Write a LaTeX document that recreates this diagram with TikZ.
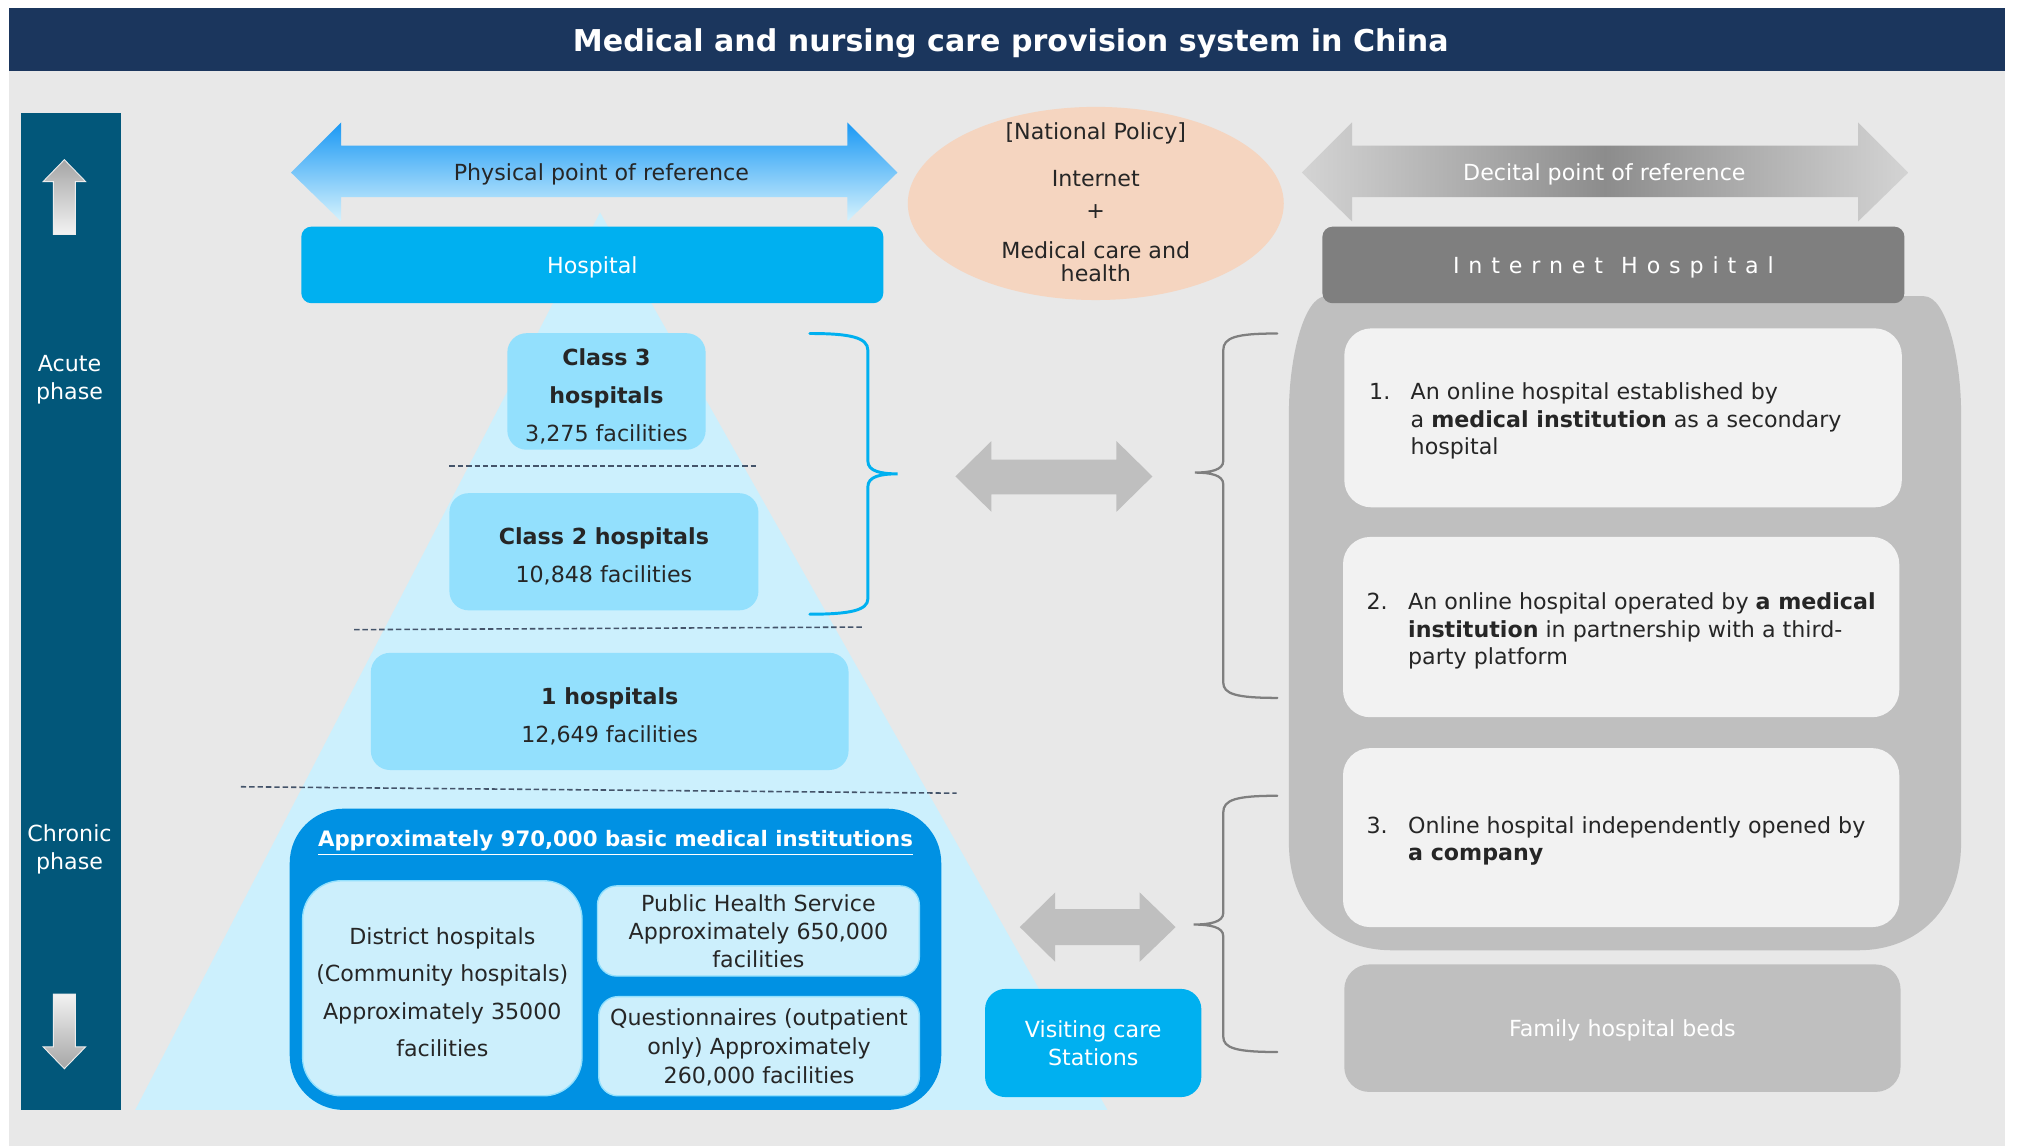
\documentclass[tikz,border=0pt]{standalone}
\usepackage{fontspec}
\setmainfont{DejaVu Sans}
\usetikzlibrary{shapes.geometric}

\definecolor{titlenavy}{HTML}{1B365D}
\definecolor{phaseteal}{HTML}{02577A}
\definecolor{bggray}{HTML}{E8E8E8}
\definecolor{hospblue}{HTML}{00B0F0}
\definecolor{classblue}{HTML}{93E0FD}
\definecolor{pyramidblue}{HTML}{CCF0FD}
\definecolor{basicblue}{HTML}{0091E3}
\definecolor{innerblue}{HTML}{CCEFFC}
\definecolor{policypeach}{HTML}{F5D5C0}
\definecolor{netgray}{HTML}{7F7F7F}
\definecolor{boxgray}{HTML}{BFBFBF}
\definecolor{itemwhite}{HTML}{F2F2F2}
\definecolor{dashnavy}{HTML}{44546A}
\definecolor{bracegray}{HTML}{7F7F7F}

\def\pxu{0.02cm}
\def\topstrut{\rule{0pt}{10.8pt}}

\tikzset{
  txt/.style={font=\fontsize{9.8}{12.2}\selectfont, text=black!85, inner sep=0pt, align=center, text depth=0pt},
  wtxt/.style={txt, text=white},
  itemtxt/.style={font=\fontsize{9.8}{12.2}\selectfont, text=black!85, inner sep=0pt, anchor=west},
  box/.style={txt, rounded corners=4.5pt},
  classbox/.style={box, fill=classblue, rounded corners=8.5pt, font=\fontsize{9.8}{16.8}\selectfont},
  innerbox/.style={box, fill=innerblue, draw=classblue, line width=0.6pt},
  itembox/.style={box, fill=itemwhite, rounded corners=12pt},
  tierline/.style={dashnavy, dash pattern=on 2.4pt off 1.3pt, line width=0.7pt},
  brace/.style={line width=1pt, line cap=round},
}

\begin{document}
\begin{tikzpicture}[x=0.02cm,y=-0.02cm]
\def\physarrow{(226,134) -- (265,95) -- (265,113) -- (658,113) -- (658,95) -- (697,134) -- (658,172) -- (658,153) -- (265,153) -- (265,172) -- cycle}
\def\digarrow{(1011,134) -- (1050,95) -- (1050,113) -- (1443,113) -- (1443,95) -- (1482,134) -- (1443,172) -- (1443,153) -- (1050,153) -- (1050,172) -- cycle}
\def\midarrow{(742,370) -- (770,342.5) -- (770,357) -- (867,357) -- (867,342.5) -- (895,370) -- (867,397.5) -- (867,384) -- (770,384) -- (770,397.5) -- cycle}
\def\lowarrow{(792,720) -- (819.5,693) -- (819.5,706) -- (885,706) -- (885,693) -- (913,720) -- (885,747) -- (885,734) -- (819.5,734) -- (819.5,747) -- cycle}
\def\containerpath{(1030,230) -- (1494,230) .. controls (1512,230) and (1523,280) .. (1523,320) -- (1523,655) .. controls (1523,705) and (1490,738) .. (1443,738) -- (1081,738) .. controls (1034,738) and (1001,705) .. (1001,655) -- (1001,320) .. controls (1001,280) and (1012,230) .. (1030,230) -- cycle}

\useasboundingbox (0,0) rectangle (1568,890);
\fill[white] (0,0) rectangle (1568,890);
\fill[bggray] (7,6) rectangle (1557,890);
\fill[titlenavy] (7,6) rectangle (1557,55);
\node[font=\fontsize{13.3}{16}\selectfont\bfseries, text=white, inner sep=0pt, text depth=0pt] (title) at (785,31) {Medical and nursing care provision system in China};

% phases
\fill[phaseteal] (16,88) rectangle (94,862);
\shade[top color=black!35, bottom color=black!5, draw=white!85!gray, line width=0.4pt]
  (50,124) -- (66.5,141) -- (58.5,141) -- (58.5,182) -- (41.5,182) -- (41.5,141) -- (33.5,141) -- cycle;
\shade[top color=black!5, bottom color=black!35, draw=white!85!gray, line width=0.4pt]
  (41.5,772) -- (58.5,772) -- (58.5,813) -- (66.5,813) -- (50,830) -- (33.5,813) -- (41.5,813) -- cycle;
\node[wtxt] (acute) at (54,293) {Acute\\phase};
\node[wtxt] (chronic) at (54,658) {Chronic\\phase};

% pyramid
\fill[pyramidblue] (105,862) -- (466,165) -- (860,862) -- cycle;

\shade[top color=hospblue!80!blue!90, bottom color=pyramidblue!80!white] \physarrow;
\shade[left color=black!17, right color=black!17, middle color=black!45] \digarrow;
\node[txt] (physlbl) at (467,134) {Physical point of reference};
\node[wtxt] (diglbl) at (1246,134) {Decital point of reference};

\node[ellipse, fill=policypeach, minimum width=292*\pxu, minimum height=150*\pxu, inner sep=0pt] (policy) at (851,158) {};
\node[txt, font=\fontsize{9.8}{10.2}\selectfont] (policytxt) at (851,157) {[National Policy]\\[10.3pt]Internet\\[4pt]+\\[7.4pt]Medical care and\\health};

\node[box, fill=hospblue, text=white, minimum width=452*\pxu, minimum height=59.5*\pxu] (hosp) at (460,205.75) {Hospital};

\node[classbox, minimum width=154*\pxu, minimum height=90.5*\pxu] (class3) at (471,304) {\topstrut\textbf{Class 3}\\\textbf{hospitals}\\3,275 facilities};
\node[classbox, minimum width=240*\pxu, minimum height=91*\pxu] (class2) at (469,428.5) {\topstrut\textbf{Class 2 hospitals}\\10,848 facilities};
\node[classbox, minimum width=371*\pxu, minimum height=91*\pxu] (class1) at (473.5,552.5) {\topstrut\textbf{1 hospitals}\\12,649 facilities};

\draw[tierline] (349,362) -- (588,362);
\draw[tierline] (275,489) -- (670,487);
\draw[tierline] (187,611) -- (743,616);

\node[box, fill=basicblue, rounded corners=24pt, minimum width=506*\pxu, minimum height=234*\pxu] (basic) at (478,745) {};
\node[wtxt, font=\fontsize{9.4}{12}\selectfont\bfseries] (basictitle) at (478,651) {\underline{Approximately 970,000 basic medical institutions}};
\node[innerbox, rounded corners=17pt, font=\fontsize{9.8}{16.5}\selectfont, minimum width=217*\pxu, minimum height=167*\pxu] (district) at (343.5,767.5) {\topstrut District hospitals\\(Community hospitals)\\Approximately 35000\\facilities};
\node[innerbox, rounded corners=8.5pt, font=\fontsize{9.8}{12.5}\selectfont, minimum width=250*\pxu, minimum height=70*\pxu] (publichealth) at (589,723) {Public Health Service\\Approximately 650,000\\facilities};
\node[innerbox, rounded corners=8.5pt, font=\fontsize{9.8}{12.8}\selectfont, minimum width=249*\pxu, minimum height=77*\pxu] (questionnaire) at (589.5,812.5) {Questionnaires (outpatient\\only) Approximately\\260,000 facilities};

\node[box, fill=hospblue, text=white, rounded corners=9pt, minimum width=168*\pxu, minimum height=84*\pxu] (visiting) at (849,810) {Visiting care\\Stations};

% braces and links
\draw[brace, hospblue, line width=1.3pt] (629,259) .. controls (660,259) and (674,262) .. (674,272) -- (674,358) .. controls (674,366) and (684,368) .. (697,368) .. controls (684,368) and (674,370) .. (674,378) -- (674,465) .. controls (674,474) and (660,477) .. (629,477);
\fill[boxgray] \midarrow;
\fill[boxgray] \lowarrow;
\draw[brace, bracegray] (992,259) .. controls (960,259) and (950,262) .. (950,272) -- (950,358) .. controls (950,365) and (940,367) .. (928,367) .. controls (940,367) and (950,369) .. (950,376) -- (950,530) .. controls (950,539) and (960,542) .. (992,542);
\draw[brace, bracegray] (992,618) .. controls (960,618) and (950,621) .. (950,631) -- (950,709) .. controls (950,716) and (940,718) .. (927,718) .. controls (940,718) and (950,720) .. (950,727) -- (950,805) .. controls (950,814) and (960,817) .. (992,817);

% internet side
\fill[boxgray] \containerpath;
\node[box, fill=netgray, text=white, minimum width=452*\pxu, minimum height=59.5*\pxu] (nethosp) at (1253,205.75) {\addfontfeature{LetterSpace=40}Internet\hspace{8pt}Hospital};

\node[itembox, minimum width=433*\pxu, minimum height=139*\pxu] (item1) at (1260.5,324.5) {};
\node[itembox, minimum width=432*\pxu, minimum height=140*\pxu] (item2) at (1259,487) {};
\node[itembox, minimum width=432*\pxu, minimum height=139*\pxu] (item3) at (1259,650.5) {};
\node[itemtxt] (item1txt) at (1063,327.5) {\begin{tabular}{@{}l@{\hspace{9pt}}l@{}}1.&An online hospital established by\\&a \textbf{medical institution} as a secondary\\&hospital\end{tabular}};
\node[itemtxt] (item2txt) at (1061,490.5) {\begin{tabular}{@{}l@{\hspace{9pt}}l@{}}2.&An online hospital operated by \textbf{a medical}\\&\textbf{institution} in partnership with a third-\\&party platform\end{tabular}};
\node[itemtxt] (item3txt) at (1061,653.5) {\begin{tabular}{@{}l@{\hspace{9pt}}l@{}}3.&Online hospital independently opened by\\&\textbf{a company}\end{tabular}};

\node[box, fill=boxgray, text=white, rounded corners=11pt, minimum width=432*\pxu, minimum height=99*\pxu] (family) at (1260,798.5) {Family hospital beds};
\end{tikzpicture}
\end{document}
